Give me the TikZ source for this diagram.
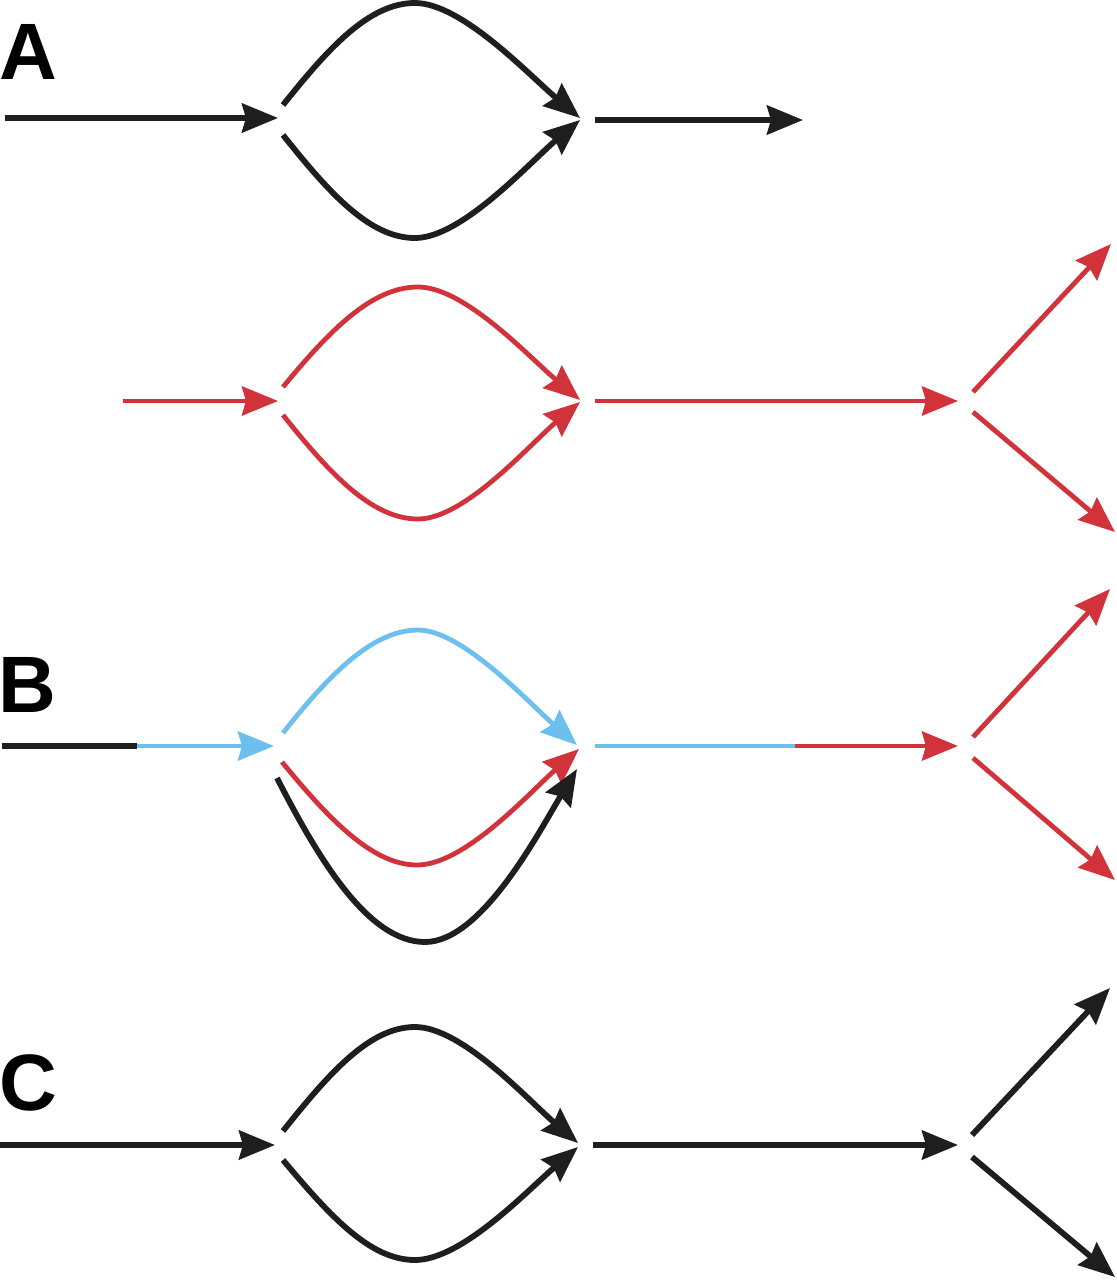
\documentclass[tikz,border=0pt]{standalone}
\usepackage{fontspec}
\setmainfont{Liberation Sans}
\usetikzlibrary{arrows.meta}
\definecolor{ink}{HTML}{1E1E1E}
\definecolor{arrred}{HTML}{D2323A}
\definecolor{arrblue}{HTML}{6CBFEE}
\tikzset{
  blk/.style={draw=ink, line width=2.9pt},
  redl/.style={draw=arrred, line width=2.4pt},
  bluel/.style={draw=arrblue, line width=2.4pt},
  arr/.style={-{Stealth[length=18pt,width=14.5pt,inset=2pt]}},
  lbl/.style={inner sep=0pt, font=\fontsize{40pt}{40pt}\selectfont\bfseries, text=black}
}
\begin{document}
\begin{tikzpicture}[x=0.5pt,y=-0.5pt]
\useasboundingbox (0,0) rectangle (1117,1280);

% ---------- Panel A (black) ----------
\node[lbl] (labA) at (28,52) {A};
\coordinate (a0) at (5,118);
\coordinate (a1) at (278,118);
\coordinate (aTs) at (283,105);
\coordinate (aTp) at (415,3);
\coordinate (aBs) at (283,135);
\coordinate (aBp) at (415,238);
\coordinate (aE1) at (580,118);
\coordinate (aE2) at (580,120);
\coordinate (aO0) at (595,120);
\coordinate (aO1) at (803,120);
\draw[blk,arr] (a0) -- (a1);
\draw[blk,arr] (aTs) .. controls (330,46) and (370,3) .. (aTp) .. controls (462,3) and (530,76) .. (aE1);
\draw[blk,arr] (aBs) .. controls (330,194) and (370,238) .. (aBp) .. controls (462,238) and (530,162) .. (aE2);
\draw[blk,arr] (aO0) -- (aO1);

% ---------- Panel A (red) ----------
\coordinate (r0) at (123,401);
\coordinate (r1) at (278,401);
\coordinate (rTs) at (283,387);
\coordinate (rTp) at (418,287);
\coordinate (rBs) at (283,415);
\coordinate (rBp) at (418,519);
\coordinate (rE1) at (580,400);
\coordinate (rE2) at (580,402);
\coordinate (rO0) at (595,401);
\coordinate (rO1) at (958,401);
\coordinate (rU0) at (973,392);
\coordinate (rU1) at (1111,244);
\coordinate (rD0) at (973,412);
\coordinate (rD1) at (1115,532);
\draw[redl,arr] (r0) -- (r1);
\draw[redl,arr] (rTs) .. controls (330,330) and (372,287) .. (rTp) .. controls (465,287) and (530,358) .. (rE1);
\draw[redl,arr] (rBs) .. controls (330,474) and (372,519) .. (rBp) .. controls (465,519) and (530,444) .. (rE2);
\draw[redl,arr] (rO0) -- (rO1);
\draw[redl,arr] (rU0) -- (rU1);
\draw[redl,arr] (rD0) -- (rD1);

% ---------- Panel B ----------
\node[lbl] (labB) at (27,685) {B};
\coordinate (b0) at (2,746);
\coordinate (bm) at (137,746);
\coordinate (b1) at (274,746);
\coordinate (bTs) at (283,733);
\coordinate (bTp) at (418,630);
\coordinate (bE1) at (577,745);
\coordinate (bRs) at (282,762);
\coordinate (bRp) at (417,865);
\coordinate (bE2) at (579,749);
\coordinate (bKs) at (277,778);
\coordinate (bKp) at (425,942);
\coordinate (bE3) at (577,769);
\coordinate (bO0) at (595,746);
\coordinate (bOm) at (795,746);
\coordinate (bO1) at (958,746);
\coordinate (bU0) at (973,737);
\coordinate (bU1) at (1110,589);
\coordinate (bD0) at (973,758);
\coordinate (bD1) at (1115,880);
\draw[blk] (b0) -- (bm);
\draw[bluel,arr] (bm) -- (b1);
\draw[bluel,arr] (bTs) .. controls (328,676) and (372,630) .. (bTp) .. controls (462,630) and (528,702) .. (bE1);
\draw[redl,arr] (bRs) .. controls (328,818) and (372,865) .. (bRp) .. controls (465,865) and (530,792) .. (bE2);
\draw[blk,arr] (bKs) .. controls (318,858) and (368,942) .. (bKp) .. controls (482,942) and (540,830) .. (bE3);
\draw[bluel] (bO0) -- (bOm);
\draw[redl,arr] (bOm) -- (bO1);
\draw[redl,arr] (bU0) -- (bU1);
\draw[redl,arr] (bD0) -- (bD1);

% ---------- Panel C ----------
\node[lbl] (labC) at (28,1083) {C};
\coordinate (c0) at (0,1145);
\coordinate (c1) at (275,1145);
\coordinate (cTs) at (283,1131);
\coordinate (cTp) at (415,1027);
\coordinate (cBs) at (283,1160);
\coordinate (cBp) at (415,1260);
\coordinate (cE1) at (578,1143);
\coordinate (cE2) at (578,1147);
\coordinate (cO0) at (593,1145);
\coordinate (cO1) at (958,1145);
\coordinate (cU0) at (972,1135);
\coordinate (cU1) at (1110,988);
\coordinate (cD0) at (972,1157);
\coordinate (cD1) at (1115,1277);
\draw[blk,arr] (c0) -- (c1);
\draw[blk,arr] (cTs) .. controls (330,1072) and (370,1027) .. (cTp) .. controls (462,1027) and (528,1100) .. (cE1);
\draw[blk,arr] (cBs) .. controls (330,1216) and (370,1260) .. (cBp) .. controls (462,1260) and (528,1190) .. (cE2);
\draw[blk,arr] (cO0) -- (cO1);
\draw[blk,arr] (cU0) -- (cU1);
\draw[blk,arr] (cD0) -- (cD1);
\end{tikzpicture}
\end{document}
